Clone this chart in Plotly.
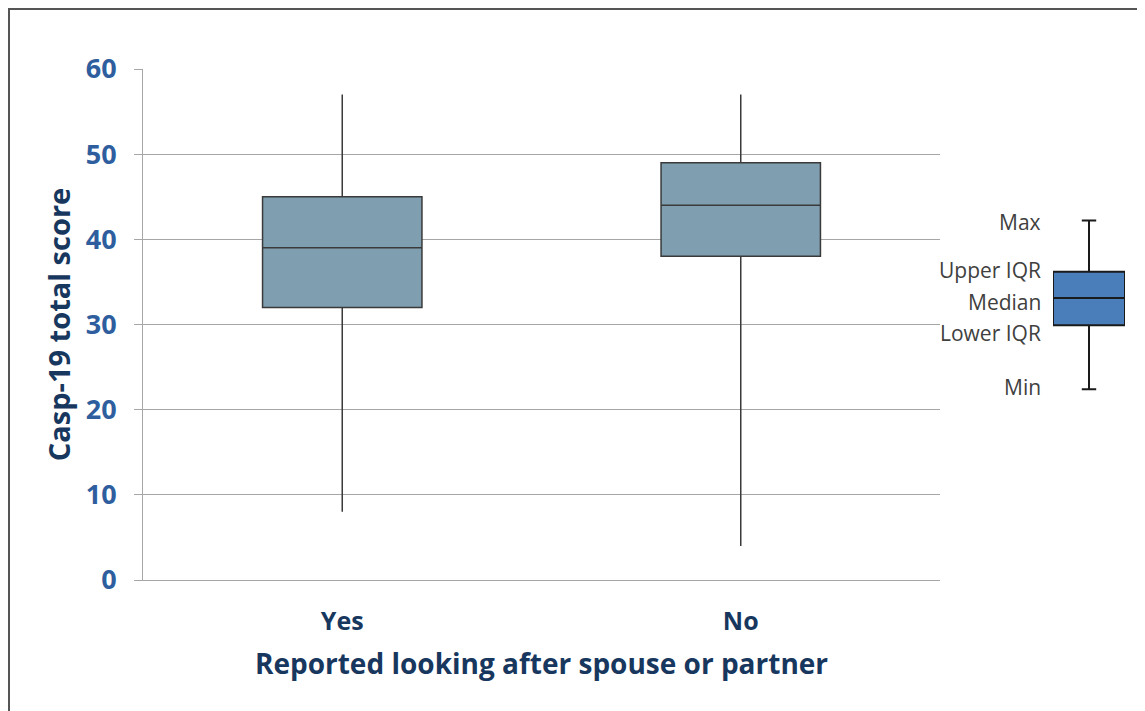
import plotly.graph_objects as go

categories = ["Yes", "No"]
q1 = [32, 38]
median = [39, 44]
q3 = [45, 49]
lower = [8, 4]
upper = [57, 57]

# illustrative key box (right side)
key_q1 = [29.9]
key_median = [33.1]
key_q3 = [36.2]
key_lower = [22.4]
key_upper = [42.2]
key_labels = ["Max", "Upper IQR", "Median", "Lower IQR", "Min"]
key_label_y = [42.0, 36.4, 32.6, 29.0, 22.7]

y_ticks = [0, 10, 20, 30, 40, 50, 60]

# page body offset (default html margin)
OFF = 8
W, H = 1145 - OFF, 711 - OFF
ML, MR, MT, MB = 143 - OFF, 10, 69 - OFF, 131
PW = W - ML - MR
PH = H - MT - MB

def px_x(p):
    return (p - OFF - ML) / PW

def px_y(p):
    return (H - MB - (p - OFF)) / PH

FONT = "Open Sans"

fig = go.Figure()
fig.add_trace(go.Box(
    x=categories, q1=q1, median=median, q3=q3,
    lowerfence=lower, upperfence=upper,
    fillcolor="#7f9fb0", line=dict(color="#3a3a3a", width=1.5),
    width=0.4, whiskerwidth=0, boxpoints=False, hoverinfo="skip",
    showlegend=False, xaxis="x", yaxis="y",
))
fig.add_trace(go.Box(
    x=[0], q1=key_q1, median=key_median, q3=key_q3,
    lowerfence=key_lower, upperfence=key_upper,
    fillcolor="#4a7ebb", line=dict(color="#1a1a1a", width=2),
    width=1, whiskerwidth=0.2, boxpoints=False, hoverinfo="skip",
    showlegend=False, xaxis="x2", yaxis="y2",
))

for lab, yv in zip(key_labels, key_label_y):
    fig.add_annotation(
        x=px_x(1043), y=yv, xref="paper", yref="y2", text=lab,
        showarrow=False, xanchor="right", yanchor="middle",
        font=dict(family=FONT, size=21, color="#404040"),
    )

fig.add_shape(
    type="rect", xref="paper", yref="paper",
    x0=px_x(9), x1=px_x(1160), y0=px_y(725), y1=px_y(9),
    line=dict(color="#555555", width=2), fillcolor="rgba(0,0,0,0)",
)

fig.update_layout(
    width=W, height=H,
    margin=dict(l=ML, r=MR, t=MT, b=MB),
    paper_bgcolor="white", plot_bgcolor="white",
    font=dict(family=FONT),
    xaxis=dict(
        domain=[0, px_x(940)], range=[-0.5, 1.5],
        showgrid=False, showline=True, linecolor="#a6a6a6", linewidth=1,
        ticks="", ticklabelstandoff=19,
        tickfont=dict(family=FONT, size=25, color="#17375e", weight="bold"),
        title=dict(text="<b>Reported looking after spouse or partner</b>",
                   font=dict(family=FONT, size=28, color="#17375e"), standoff=18),
        fixedrange=True,
    ),
    yaxis=dict(
        range=[0, 60], tickvals=y_ticks,
        showgrid=True, gridcolor="#a6a6a6", gridwidth=1,
        showline=True, linecolor="#a6a6a6", linewidth=1,
        zeroline=False,
        ticks="outside", ticklen=8, tickcolor="#a6a6a6",
        ticklabelstandoff=12,
        tickfont=dict(family=FONT, size=27, color="#2e5e9e", weight="bold"),
        title=dict(text="<b>Casp-19 total score</b>",
                   font=dict(family=FONT, size=29, color="#17375e"), standoff=6),
        fixedrange=True,
    ),
    xaxis2=dict(
        domain=[px_x(1053), px_x(1125)], range=[-0.5, 0.5],
        visible=False, anchor="y2", fixedrange=True,
    ),
    yaxis2=dict(
        domain=[0, 1], range=[0, 60], visible=False, anchor="x2",
        fixedrange=True,
    ),
)

fig.write_html("out.html")
